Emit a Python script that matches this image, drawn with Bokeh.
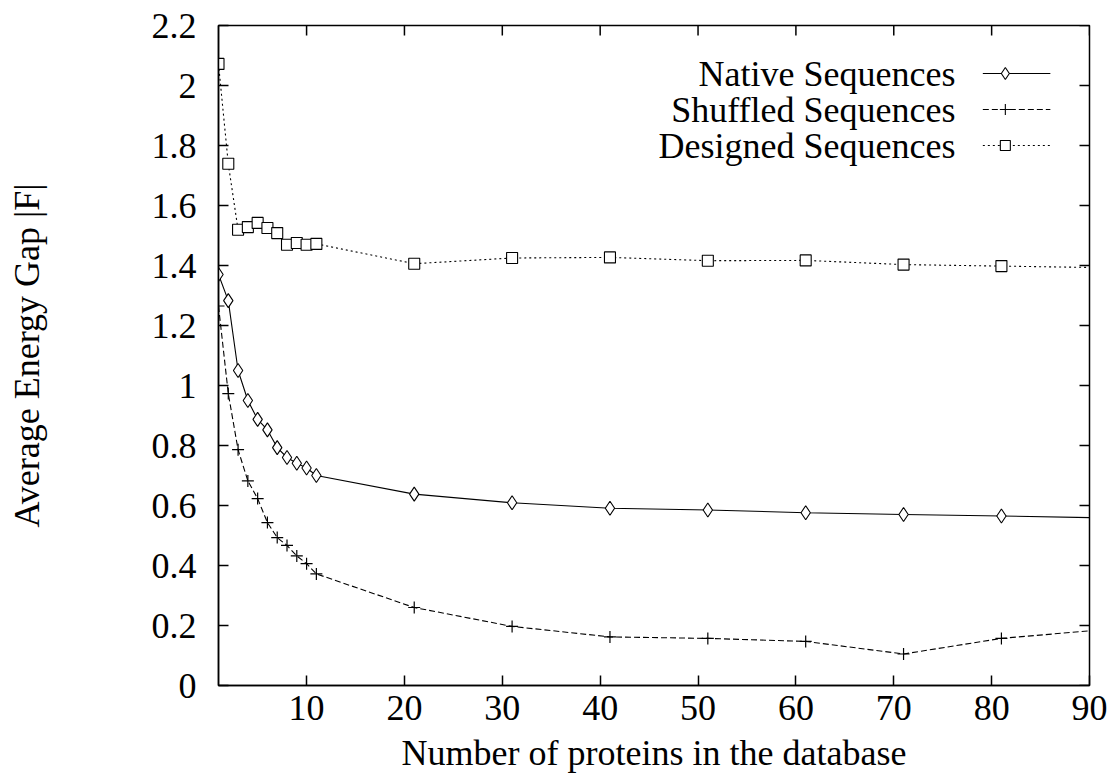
from bokeh.plotting import figure
from bokeh.models import Range1d, FixedTicker
from bokeh.core.properties import value
from bokeh.embed import file_html
from bokeh.resources import INLINE

# ---- data ----
n_proteins = [1, 2, 3, 4, 5, 6, 7, 8, 9, 10, 11, 21, 31, 41, 51, 61, 71, 81, 91]
native = [1.370, 1.283, 1.050, 0.950, 0.887, 0.852, 0.793, 0.760, 0.741, 0.725, 0.700,
          0.638, 0.609, 0.591, 0.585, 0.576, 0.570, 0.565, 0.559]
shuffled = [1.265, 0.973, 0.786, 0.682, 0.623, 0.543, 0.493, 0.467, 0.432, 0.406, 0.372,
            0.260, 0.197, 0.162, 0.157, 0.147, 0.105, 0.157, 0.185]
designed = [2.072, 1.739, 1.519, 1.528, 1.542, 1.525, 1.508, 1.469, 1.475, 1.469, 1.472,
            1.406, 1.425, 1.427, 1.416, 1.417, 1.403, 1.398, 1.393]
series_names = ["Native Sequences", "Shuffled Sequences", "Designed Sequences"]

x_ticks = [10, 20, 30, 40, 50, 60, 70, 80, 90]
y_ticks = [0, 0.2, 0.4, 0.6, 0.8, 1.0, 1.2, 1.4, 1.6, 1.8, 2.0, 2.2]
y_tick_labels = ["0", "0.2", "0.4", "0.6", "0.8", "1", "1.2", "1.4", "1.6", "1.8", "2", "2.2"]

X_MIN, X_MAX, Y_MIN, Y_MAX = 1, 90, 0, 2.2

FONT = "Liberation Serif"
FS = "36px"

W, H = 1107, 778
ML, MR, MT, MB = 218, 18, 25, 93

p = figure(width=W, height=H, output_backend="svg", toolbar_location=None,
           x_range=Range1d(X_MIN, X_MAX), y_range=Range1d(Y_MIN, Y_MAX),
           min_border_left=ML, min_border_right=MR, min_border_top=MT, min_border_bottom=MB)
p.grid.visible = False
p.outline_line_color = "black"
p.outline_line_width = 1.5
p.background_fill_color = "white"
p.border_fill_color = "white"

def style_axis(ax):
    ax.axis_line_color = "black"
    ax.axis_line_width = 1.5
    ax.major_tick_in = 10
    ax.major_tick_out = 0
    ax.major_tick_line_width = 1.5
    ax.minor_tick_line_color = None
    ax.major_label_text_font = FONT
    ax.major_label_text_font_size = FS
    ax.major_label_text_color = "black"
    ax.axis_label_text_font = FONT
    ax.axis_label_text_font_size = FS
    ax.axis_label_text_font_style = "normal"
    ax.axis_label_text_color = "black"

xa = p.xaxis[0]
xa.ticker = FixedTicker(ticks=x_ticks)
xa.axis_label = "Number of proteins in the database"
style_axis(xa)
xa.major_label_standoff = 10
xa.axis_label_standoff = 10

ya = p.yaxis[0]
ya.ticker = FixedTicker(ticks=y_ticks)
ya.major_label_overrides = {t: s for t, s in zip(y_ticks, y_tick_labels)}
ya.axis_label = "Average Energy Gap |F|"
style_axis(ya)
ya.major_label_standoff = 22
ya.axis_label_standoff = 102

# mirrored ticks on the top and right edges of the frame (10 px long)
frame_w = W - ML - MR
frame_h = H - MT - MB
dx10 = 10 * (X_MAX - X_MIN) / frame_w
dy10 = 10 * (Y_MAX - Y_MIN) / frame_h
p.segment(x0=x_ticks, y0=[Y_MAX] * len(x_ticks), x1=x_ticks, y1=[Y_MAX - dy10] * len(x_ticks),
          line_color="black", line_width=1.5)
p.segment(x0=[X_MAX] * len(y_ticks), y0=y_ticks, x1=[X_MAX - dx10] * len(y_ticks), y1=y_ticks,
          line_color="black", line_width=1.5)

# ---- series ----
p.line(n_proteins, native, line_color="black", line_width=1.1)
p.scatter(n_proteins, native, marker="diamond", size=14, fill_color="white",
          line_color="black", line_width=1.1)

p.line(n_proteins, shuffled, line_color="black", line_width=1.1, line_dash="6 3")
p.scatter(n_proteins, shuffled, marker="cross", size=12, line_color="black", line_width=1.2)

p.line(n_proteins, designed, line_color="black", line_width=1.1, line_dash="2 3")
p.scatter(n_proteins, designed, marker="square", size=11, fill_color="white",
          line_color="black", line_width=1.1)

# ---- legend (text to the left of the sample, as in the reference) ----
leg_rows = [2.04, 1.92, 1.80]
leg_text_x = 76.3
leg_x0, leg_x1, leg_mx = 79.1, 86.0, 81.4
dashes = ["solid", "6 3", "2 3"]
markers = ["diamond", "cross", "square"]
msizes = [12, 11, 10]
p.text(x=[leg_text_x] * 3, y=leg_rows, text=series_names, text_align="right",
       text_baseline="middle", text_font=value(FONT), text_font_size=FS, text_color="black")
for yy, d, m, s in zip(leg_rows, dashes, markers, msizes):
    p.segment(x0=[leg_x0], y0=[yy], x1=[leg_x1], y1=[yy], line_color="black",
              line_width=1.1, line_dash=d)
    p.scatter([leg_mx], [yy], marker=m, size=s, fill_color="white",
              line_color="black", line_width=1.1)

open("out.html", "w").write(file_html(p, INLINE))
